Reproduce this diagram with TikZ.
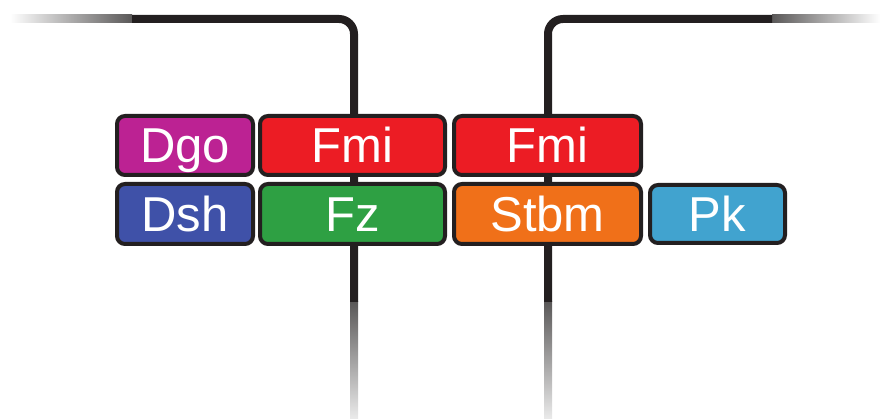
\documentclass[tikz,border=0pt]{standalone}
\usepackage{fontspec}
\setmainfont{Liberation Sans}
\definecolor{wirec}{HTML}{231F20}
\definecolor{fadec}{HTML}{5A5858}
\definecolor{cmag}{HTML}{BC2293}
\definecolor{cred}{HTML}{EC1C24}
\definecolor{cblue}{HTML}{3F51A8}
\definecolor{cgreen}{HTML}{2EA043}
\definecolor{corange}{HTML}{F07019}
\definecolor{ccyan}{HTML}{41A3CF}
\tikzset{
  wire/.style={draw=wirec, line width=8pt, rounded corners=15pt},
  tag/.style={draw=wirec, line width=4pt, rounded corners=8pt, text=white,
    inner sep=0pt, font=\fontsize{49}{49}\selectfont, text height=35pt, text depth=0pt},
  row1/.style={minimum height=59pt},
  row2/.style={minimum height=60pt},
}
\begin{document}
\begin{tikzpicture}[x=1pt,y={(0,-1pt)}]
\useasboundingbox (0,0) rectangle (880,419);
% wire end points
\coordinate (LA) at (132,19);
\coordinate (LB) at (354,302);
\coordinate (RA) at (772,19);
\coordinate (RB) at (548,302);
% fades
\shade[left color=white, right color=fadec] (10,15) rectangle (LA|-0,23);
\shade[left color=fadec, right color=white] (RA|-0,15) rectangle (880,23);
\shade[top color=fadec, bottom color=white!92!black] (350,302) rectangle (358,419);
\shade[top color=fadec, bottom color=white!92!black] (544,302) rectangle (552,419);
% wires
\draw[wire] (LA) -| (LB);
\draw[wire] (RA) -| (RB);
% tags
\node[tag,row1,fill=cmag,minimum width=136pt] (dgo) at (185,145.5) {Dgo};
\node[tag,row1,fill=cred,minimum width=185pt] (fmiA) at (352.5,145.5) {Fmi};
\node[tag,row1,fill=cred,minimum width=187pt] (fmiB) at (547.5,145.5) {Fmi};
\node[tag,row2,fill=cblue,minimum width=136pt] (dsh) at (185,214) {Dsh};
\node[tag,row2,fill=cgreen,minimum width=185pt] (fz) at (352.5,214) {Fz};
\node[tag,row2,fill=corange,minimum width=187pt] (stbm) at (547.5,214) {Stbm};
\node[tag,fill=ccyan,minimum width=135pt,minimum height=58pt] (pk) at (717.5,214) {Pk};
\end{tikzpicture}
\end{document}
